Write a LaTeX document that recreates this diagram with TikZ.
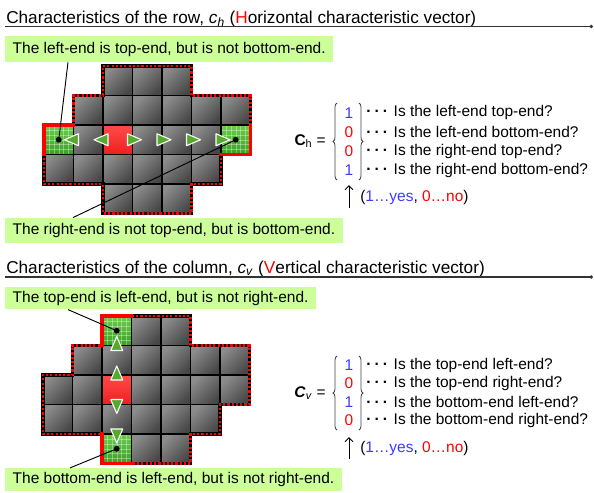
\documentclass[tikz,border=0pt]{standalone}
\usepackage{fontspec}
\setmainfont{Liberation Sans}
\usepackage{tikz}
\usetikzlibrary{arrows.meta,positioning,calc,decorations.pathreplacing}
\definecolor{NoteGreen}{HTML}{CCFF99}
\definecolor{YesBlue}{HTML}{3C3CFF}
\definecolor{NoRed}{HTML}{FF0000}
\definecolor{GreenTop}{RGB}{110,205,75}
\definecolor{GreenBot}{RGB}{55,160,35}
\definecolor{TriGreen}{RGB}{85,170,45}
\definecolor{CellRedTop}{RGB}{255,75,75}
\definecolor{CellRedBot}{RGB}{240,30,30}

\newcommand{\cw}{29.5}
\newcommand{\grayblock}{%
  \foreach \r/\a/\b in {0/2/4,1/1/6,2/0/6,3/0/5,4/2/4}
    \foreach \c in {\a,...,\b}
      \shadedraw[cellbox] (\c*\cw,\r*\cw) rectangle ++(\cw,\cw);}
\newcommand{\greencell}[2]{%
  \shade[top color=GreenTop,bottom color=GreenBot] (#1*\cw,#2*\cw) rectangle ++(\cw,\cw);
  \foreach \k in {1,...,5} {
    \draw[white,opacity=.35,line width=.3pt] ({(#1+\k/6)*\cw},#2*\cw) -- ++(0,\cw);
    \draw[white,opacity=.35,line width=.3pt] (#1*\cw,{(#2+\k/6)*\cw}) -- ++(\cw,0);
  }
  \draw[line width=1.1pt] (#1*\cw,#2*\cw) rectangle ++(\cw,\cw);}
\newcommand{\redcell}[2]{%
  \shadedraw[line width=1.1pt,top color=CellRedTop,bottom color=CellRedBot]
    (#1*\cw,#2*\cw) rectangle ++(\cw,\cw);}
\newcommand{\blockoutline}{%
  \draw[edgeblack,postaction={edgered}] (2*\cw,0) -- (5*\cw,0) -- (5*\cw,\cw) -- (7*\cw,\cw)
    -- (7*\cw,3*\cw) -- (6*\cw,3*\cw) -- (6*\cw,4*\cw) -- (5*\cw,4*\cw) -- (5*\cw,5*\cw)
    -- (2*\cw,5*\cw) -- (2*\cw,4*\cw) -- (0,4*\cw) -- (0,2*\cw) -- (\cw,2*\cw)
    -- (\cw,\cw) -- (2*\cw,\cw) -- cycle;}
\newcommand{\tridots}{\textbf{·\kern2.4pt·\kern2.4pt·}\kern4.2pt}

\tikzset{
  title/.style={anchor=base west,inner sep=0pt,font=\fontsize{12.9}{15}\selectfont},
  rule/.style={line width=.8pt,black!80,-{Circle[length=2.5pt]}},
  note/.style={anchor=west,fill=NoteGreen,inner xsep=5.6pt,inner ysep=0pt,font=\fontsize{11.6}{14}\selectfont},
  cellbox/.style={draw=black,line width=1.1pt,top color=black!45,bottom color=black!72,shading angle=45},
  edgeblack/.style={draw=black,line width=2.3pt},
  edgered/.style={draw=red,line width=1.6pt,dash pattern=on 1.6pt off 1.6pt},
  redsolid/.style={draw=red,line width=2.3pt,line cap=rect},
  arrowtri/.style={fill=TriGreen,draw=white,line width=.8pt,line join=round},
  txt/.style={inner sep=0pt,font=\fontsize{11.6}{14}\selectfont},
  pointer/.style={line width=.7pt},
  bracelet/.style={decorate,decoration={brace,amplitude=3pt},line width=.6pt,black!75}
}

\begin{document}
\begin{tikzpicture}[x=0.75pt,y=-0.75pt,>={Straight Barb[length=3pt]}]
\useasboundingbox (0,0) rectangle (594,493);

% row
\node[title] (rowtitle) at (6,23) {Characteristics of the row, \textit{c}\textsubscript{\textit{h}} (\textcolor{NoRed}{H}orizontal characteristic vector)};
\draw[rule] (5,26.5) -- (593,26.5);
\node[note,minimum height=19.5pt] (lefttop) at (5,49) {The left-end is top-end, but is not bottom-end.};
\node[note,minimum height=19pt] (rightbottom) at (5,230.5) {The right-end is not top-end, but is bottom-end.};

\begin{scope}[shift={(44,66)}]
  \grayblock
  \redcell{2}{2}
  \greencell{0}{2}
  \greencell{6}{2}
  \blockoutline
  \draw[redsolid] (0,3*\cw) -- (0,2*\cw) -- (\cw,2*\cw);
  \draw[redsolid] (6*\cw,3*\cw) -- (7*\cw,3*\cw) -- (7*\cw,2*\cw);
  \foreach \x/\a in {1/180,2/180,3/0,4/0,5/0,6/0}
    \draw[arrowtri,shift={(\x*\cw,2.5*\cw)},rotate=\a] (-5,-6) -- (9,0) -- (-5,6) -- cycle;
  \coordinate (endL) at (0.5*\cw,2.5*\cw);
  \coordinate (endR) at (6.5*\cw,2.5*\cw);
\end{scope}
\fill (endL) circle (2.2pt);
\fill (endR) circle (2.2pt);
\draw[pointer] ($(lefttop.south west)+(63,0)$) -- (endL);
\draw[pointer] (endR) -- ($(rightbottom.north west)+(68,0)$);

\node[txt,anchor=east] (chlabel) at (326,141) {\textbf{C}\textsubscript{h} =};
\draw[bracelet] (337,180) -- (337,103);
\draw[bracelet] (359,103) -- (359,180);
\foreach \i/\v/\col/\q in {1/1/YesBlue/Is the left-end top-end?,2/0/NoRed/Is the left-end bottom-end?,3/0/NoRed/Is the right-end top-end?,4/1/YesBlue/Is the right-end bottom-end?} {
  \node[txt,text=\col] (hnum\i) at (349,{94+19*\i}) {\v};
  \node[txt,anchor=west] (hq\i) at (366,{94+19*\i}) {\tridots\q};
}
\coordinate (harrow) at (349,208);
\draw[pointer,->] (harrow) -- ++(0,-23);
\node[txt,anchor=west] (hkey) at (360,197) {(\textcolor{YesBlue}{1…yes}, \textcolor{NoRed}{0…no})};

% column
\node[title] (coltitle) at (6,273) {Characteristics of the column, \textit{c}\textsubscript{\textit{v}} (\textcolor{NoRed}{V}ertical characteristic vector)};
\draw[rule] (5,277) -- (593,277);
\node[note,minimum height=17pt] (topleft) at (5,298) {The top-end is left-end, but is not right-end.};
\node[note,minimum height=17pt] (bottomleft) at (5,479.5) {The bottom-end is left-end, but is not right-end.};

\begin{scope}[shift={(43,316)}]
  \grayblock
  \redcell{2}{2}
  \greencell{2}{0}
  \greencell{2}{4}
  \blockoutline
  \draw[redsolid] (2*\cw,\cw) -- (2*\cw,0) -- (3*\cw,0);
  \draw[redsolid] (2*\cw,4*\cw) -- (2*\cw,5*\cw) -- (3*\cw,5*\cw);
  \foreach \y/\a in {1/90,2/90,3/-90,4/-90}
    \draw[arrowtri,shift={(2.5*\cw,\y*\cw)},rotate=\a] (-5,-6) -- (9,0) -- (-5,6) -- cycle;
  \coordinate (endT) at (2.5*\cw,0.5*\cw);
  \coordinate (endB) at (2.5*\cw,4.5*\cw);
\end{scope}
\fill (endT) circle (2.2pt);
\fill (endB) circle (2.2pt);
\draw[pointer] ($(topleft.south west)+(63,0)$) -- (endT);
\draw[pointer] (endB) -- ($(bottomleft.north west)+(65,0)$);

\node[txt,anchor=east] (cvlabel) at (326,393) {\textbf{\textit{C}}\textsubscript{\textit{v}} =};
\draw[bracelet] (337,430) -- (337,356);
\draw[bracelet] (359,356) -- (359,430);
\foreach \i/\v/\col/\q in {1/1/YesBlue/Is the top-end left-end?,2/0/NoRed/Is the top-end right-end?,3/1/YesBlue/Is the bottom-end left-end?,4/0/NoRed/Is the bottom-end right-end?} {
  \node[txt,text=\col] (vnum\i) at (349,{346.5+18.5*\i}) {\v};
  \node[txt,anchor=west] (vq\i) at (366,{346.5+18.5*\i}) {\tridots\q};
}
\coordinate (varrow) at (349,459);
\draw[pointer,->] (varrow) -- ++(0,-22);
\node[txt,anchor=west] (vkey) at (360,448) {(\textcolor{YesBlue}{1…yes}, \textcolor{NoRed}{0…no})};
\end{tikzpicture}
\end{document}
